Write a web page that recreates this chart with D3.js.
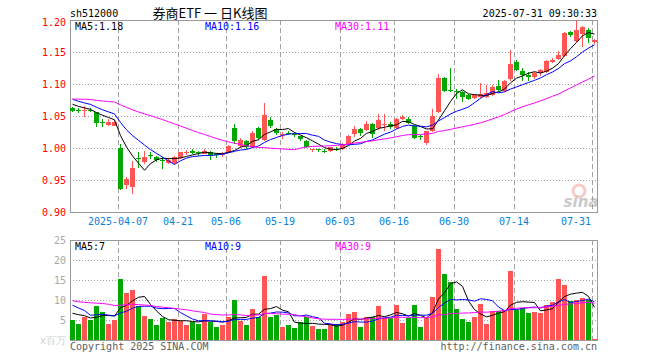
<!DOCTYPE html>
<html>
<head>
<meta charset="utf-8">
<script src="https://cdn.jsdelivr.net/npm/d3@7"></script>
<style>
  html, body { margin: 0; padding: 0; background: #fff; }
  svg { display: block; }
  text { font-family: "DejaVu Sans Mono", monospace; font-size: 10px; }
</style>
</head>
<body>
<svg id="chart" width="660" height="360"></svg>
<script>
// ── 数据 ────────────────────────────────────────────────────────────
const DATES = [
  "03-25","03-26","03-27","03-28","03-31","04-01","04-02","04-03","04-07","04-08",
  "04-09","04-10","04-11","04-14","04-15","04-16","04-17","04-18","04-21","04-22",
  "04-23","04-24","04-25","04-28","04-29","04-30","05-06","05-07","05-08","05-09",
  "05-12","05-13","05-14","05-15","05-16","05-19","05-20","05-21","05-22","05-23",
  "05-26","05-27","05-28","05-29","05-30","06-03","06-04","06-05","06-06","06-09",
  "06-10","06-11","06-12","06-13","06-16","06-17","06-18","06-19","06-20","06-23",
  "06-24","06-25","06-26","06-27","06-30","07-01","07-02","07-03","07-04","07-07",
  "07-08","07-09","07-10","07-11","07-14","07-15","07-16","07-17","07-18","07-21",
  "07-22","07-23","07-24","07-25","07-28","07-29","07-30","07-31"
];

const OPEN = [
  1.063,1.059,1.058,1.060,1.057,1.040,1.037,1.035,1.000,0.942,
  0.940,0.985,0.978,0.989,0.986,0.982,0.977,0.977,0.984,0.992,
  0.996,0.993,0.992,0.994,0.990,0.989,0.993,1.031,1.004,1.011,
  1.002,1.031,1.013,1.043,1.029,1.021,1.024,1.022,1.018,1.011,
  0.997,0.998,0.996,0.994,0.999,0.999,1.006,1.021,1.029,1.028,
  1.037,1.030,1.037,1.038,1.031,1.046,1.046,1.035,1.018,1.007,
  1.027,1.056,1.110,1.090,1.089,1.088,1.083,1.079,1.080,1.080,
  1.084,1.097,1.090,1.109,1.135,1.121,1.114,1.111,1.117,1.119,
  1.135,1.139,1.144,1.181,1.168,1.178,1.185,1.165
];
const HIGH = [
  1.064,1.062,1.066,1.063,1.057,1.045,1.045,1.043,1.007,0.955,
  0.979,0.994,0.995,0.993,0.987,0.986,0.984,0.988,0.994,0.997,
  0.999,0.995,0.998,0.995,0.992,0.994,1.004,1.037,1.016,1.013,
  1.026,1.033,1.071,1.049,1.031,1.025,1.026,1.024,1.019,1.012,
  0.999,0.999,0.999,1.002,1.001,1.008,1.021,1.035,1.031,1.042,
  1.039,1.053,1.053,1.040,1.047,1.051,1.048,1.036,1.020,1.027,
  1.061,1.116,1.111,1.125,1.092,1.089,1.085,1.085,1.102,1.099,
  1.098,1.106,1.107,1.153,1.137,1.125,1.119,1.118,1.124,1.138,
  1.140,1.152,1.181,1.183,1.200,1.190,1.188,1.170
];
const LOW = [
  1.057,1.055,1.049,1.056,1.033,1.033,1.034,1.034,0.934,0.936,
  0.928,0.968,0.975,0.983,0.978,0.967,0.975,0.973,0.983,0.989,
  0.990,0.988,0.990,0.982,0.985,0.986,0.992,1.006,1.000,0.998,
  1.000,1.013,1.011,1.031,1.020,1.014,1.020,1.017,1.011,1.000,
  0.993,0.993,0.992,0.993,0.995,0.997,1.004,1.017,1.019,1.026,
  1.016,1.028,1.027,1.030,1.029,1.044,1.037,1.014,1.012,1.005,
  1.025,1.054,1.087,1.087,1.076,1.072,1.075,1.077,1.078,1.078,
  1.082,1.088,1.088,1.105,1.120,1.104,1.105,1.108,1.113,1.117,
  1.133,1.137,1.142,1.173,1.166,1.158,1.164,1.163
];
const CLOSE = [
  1.059,1.058,1.060,1.059,1.040,1.039,1.041,1.041,0.936,0.951,
  0.969,0.984,0.986,0.988,0.981,0.981,0.981,0.986,0.993,0.993,
  0.993,0.992,0.996,0.988,0.989,0.991,1.003,1.010,1.013,1.002,
  1.024,1.015,1.052,1.033,1.022,1.022,1.023,1.021,1.013,1.001,
  0.998,0.997,0.994,1.001,0.998,1.007,1.019,1.029,1.022,1.037,
  1.022,1.043,1.038,1.033,1.045,1.049,1.040,1.017,1.017,1.026,
  1.050,1.109,1.089,1.089,1.088,1.080,1.077,1.083,1.084,1.086,
  1.096,1.090,1.105,1.132,1.122,1.114,1.111,1.117,1.122,1.136,
  1.138,1.146,1.180,1.176,1.185,1.189,1.172,1.168
];
// 成交量（百万）
const VOLUME = [
  4.9,4.1,5.7,5.1,8.6,7.1,4.1,5.1,15.3,11.8,
  12.6,8.6,6.1,5.3,3.8,5.6,4.6,5.3,4.8,3.8,
  4.6,4.1,6.6,4.6,3.3,3.8,5.8,10.1,4.8,3.8,
  7.8,5.8,16.1,5.8,6.3,3.3,3.8,3.1,4.6,5.8,
  3.6,2.8,2.8,4.1,4.1,4.6,6.6,7.1,3.3,5.8,
  5.8,8.6,5.6,5.6,8.8,4.3,5.6,8.8,3.3,5.6,
  10.8,22.8,16.6,14.6,7.8,5.3,4.6,5.8,9.1,4.1,
  7.3,7.3,7.6,17.3,7.6,8.1,6.8,7.1,6.8,8.8,
  9.6,15.3,13.8,9.8,10.1,10.6,10.1,0.3
];

// 图中区间之前的 29 个交易日（只用于均线）
const PRE_CLOSE = [
  1.060,1.065,1.072,1.078,1.070,1.068,1.062,1.066,1.075,1.080,
  1.085,1.078,1.072,1.070,1.075,1.082,1.088,1.092,1.095,1.098,
  1.090,1.086,1.082,1.084,1.078,1.075,1.072,1.070,1.066
];
const PRE_VOLUME = [
  12.5,9.8,8.6,11.2,10.1,9.3,14.8,12.0,9.5,8.8,
  10.6,9.9,8.7,11.5,10.2,9.0,10.8,9.6,8.9,12.2,
  11.0,12.3,16.8,7.2,6.2,6.0,6.8,8.1,7.7
];

const TICK_DATES  = ["04-07","04-21","05-06","05-19","06-03","06-16","06-30","07-14","07-31"];
const TICK_LABELS = ["2025-04-07","04-21","05-06","05-19","06-03","06-16","06-30","07-14","07-31"];
const PRICE_TICKS = [0.90, 0.95, 1.00, 1.05, 1.10, 1.15, 1.20];
const VOL_TICKS   = [5, 10, 15, 20, 25];

const MA_PERIODS    = [5, 10, 30];
const MA_COLORS     = ["#000000", "#0000ff", "#ff00ff"];
const PRICE_MA_TEXT = ["MA5:1.18", "MA10:1.16", "MA30:1.11"];
const VOL_MA_TEXT   = ["MA5:7", "MA10:9", "MA30:9"];

const UP_COLOR   = "#ff5555";
const DOWN_COLOR = "#00a800";
const GRID_COLOR = "#a0a0a0";

// ── 布局 ────────────────────────────────────────────────────────────
const svg = d3.select("#chart");
const L = 70, R = 598;
const P_TOP = 20, P_BOT = 212;
const V_TOP = 240, V_BOT = 340;

const x = d3.scaleBand().domain(DATES).range([L, R])
  .paddingInner(1 / 6).paddingOuter(1 / 12).align(0);
const bw = x.bandwidth();
const cx = d => Math.round(x(d)) + 2.5;

const yP = d3.scaleLinear().domain([0.90, 1.20]).range([P_BOT, P_TOP]);
const yV = d3.scaleLinear().domain([0, 25]).range([V_BOT, V_TOP]);

function movingAvg(pre, vals, n) {
  const all = pre.concat(vals);
  return vals.map((_, i) => d3.mean(all.slice(i + pre.length - n + 1, i + pre.length + 1)));
}

const bars = DATES.map((d, i) => ({
  date: d, o: OPEN[i], h: HIGH[i], l: LOW[i], c: CLOSE[i], v: VOLUME[i],
  up: CLOSE[i] >= OPEN[i]
}));

svg.append("rect").attr("width", 660).attr("height", 360).attr("fill", "#fff");

// ── 标题 ────────────────────────────────────────────────────────────
svg.append("text").attr("x", 70).attr("y", 17).attr("fill", "#000").text("sh512000");
svg.append("text").attr("x", 210).attr("y", 18).attr("text-anchor", "middle")
  .style("font-family", "'Noto Sans CJK SC', sans-serif").style("font-size", "13px")
  .attr("fill", "#000").text("券商ETF 一 日K线图");
svg.append("text").attr("x", 597).attr("y", 17).attr("text-anchor", "end")
  .attr("fill", "#000").text("2025-07-31 09:30:33");

// ── 网格 ────────────────────────────────────────────────────────────
function grid(g, yScale, ticks, top, bot) {
  g.selectAll("line.h").data(ticks).join("line").attr("class", "h")
    .attr("x1", L).attr("x2", R)
    .attr("y1", d => Math.round(yScale(d)) + 0.5).attr("y2", d => Math.round(yScale(d)) + 0.5)
    .attr("stroke", GRID_COLOR).attr("stroke-dasharray", "1,2");
  g.selectAll("line.v").data(TICK_DATES).join("line").attr("class", "v")
    .attr("x1", d => Math.round(x(d)) + 0.5).attr("x2", d => Math.round(x(d)) + 0.5)
    .attr("y1", top).attr("y2", bot)
    .attr("stroke", GRID_COLOR).attr("stroke-dasharray", "5,3");
}
grid(svg.append("g"), yP, PRICE_TICKS.slice(1, -1), P_TOP, P_BOT);
grid(svg.append("g"), yV, VOL_TICKS.slice(0, -1), V_TOP, V_BOT);

// ── 坐标轴 ──────────────────────────────────────────────────────────
const axP = svg.append("g").attr("transform", `translate(${L},0)`)
  .call(d3.axisLeft(yP).tickValues(PRICE_TICKS).tickFormat(d3.format(".2f")).tickSize(0).tickPadding(4));
axP.select(".domain").remove();
axP.selectAll("text").attr("fill", "#ff0000")
  .style("font-family", "'DejaVu Sans Mono', monospace").style("font-size", "10px");
axP.selectAll(".tick").filter(d => d === 1.20).select("text").attr("dy", "0.5em");

const axV = svg.append("g").attr("transform", `translate(${L},0)`)
  .call(d3.axisLeft(yV).tickValues(VOL_TICKS).tickSize(0).tickPadding(4));
axV.select(".domain").remove();
axV.selectAll("text").attr("fill", "#a8a8a8")
  .style("font-family", "'DejaVu Sans Mono', monospace").style("font-size", "10px");

svg.append("text").attr("x", 66).attr("y", 344).attr("text-anchor", "end")
  .attr("fill", "#d0d0d0").style("font-size", "10px").text("x百万");

// 日期标签
svg.append("g").selectAll("text").data(TICK_DATES).join("text")
  .attr("x", d => Math.round(x(d)))
  .attr("y", 224.5).attr("text-anchor", "middle").attr("fill", "#0a80d8")
  .text((d, i) => TICK_LABELS[i])
  .each(function () {
    const t = d3.select(this), w = this.getComputedTextLength();
    if (+t.attr("x") + w / 2 > 591) t.attr("x", 591).attr("text-anchor", "end");
  });

// ── 边框 ────────────────────────────────────────────────────────────
svg.append("rect").attr("x", L + 0.5).attr("y", P_TOP + 0.5)
  .attr("width", R - L - 1).attr("height", P_BOT - P_TOP)
  .attr("fill", "none").attr("stroke", "#999");
svg.append("rect").attr("x", L + 0.5).attr("y", V_TOP + 0.5)
  .attr("width", R - L - 1).attr("height", V_BOT - V_TOP)
  .attr("fill", "none").attr("stroke", "#999");

// 新浪水印
const wm = svg.append("g").attr("opacity", 0.55);
wm.append("circle").attr("cx", 579).attr("cy", 191).attr("r", 6)
  .attr("fill", "none").attr("stroke", "#f4a0a0").attr("stroke-width", 3);
wm.append("text").attr("x", 581).attr("y", 207).attr("text-anchor", "middle")
  .style("font-family", "'DejaVu Sans', sans-serif").style("font-size", "15px")
  .style("font-weight", "bold").style("font-style", "italic")
  .attr("fill", "#a0a0a0").text("sina");

// ── K 线 ────────────────────────────────────────────────────────────
const gK = svg.append("g").attr("shape-rendering", "crispEdges");
gK.selectAll("line").data(bars).join("line")
  .attr("x1", d => cx(d.date)).attr("x2", d => cx(d.date))
  .attr("y1", d => yP(d.h)).attr("y2", d => yP(d.l))
  .attr("stroke", d => d.up ? UP_COLOR : DOWN_COLOR);
gK.selectAll("rect").data(bars).join("rect")
  .attr("x", d => Math.round(x(d.date)))
  .attr("width", bw)
  .attr("y", d => Math.round(yP(Math.max(d.o, d.c))))
  .attr("height", d => Math.max(1, Math.round(Math.abs(yP(d.o) - yP(d.c)))))
  .attr("fill", d => d.up ? UP_COLOR : DOWN_COLOR);

// ── 成交量 ──────────────────────────────────────────────────────────
svg.append("g").attr("shape-rendering", "crispEdges")
  .selectAll("rect").data(bars).join("rect")
  .attr("x", d => Math.round(x(d.date)))
  .attr("width", bw)
  .attr("y", d => Math.round(yV(d.v)))
  .attr("height", d => V_BOT - Math.round(yV(d.v)))
  .attr("fill", d => d.up ? UP_COLOR : DOWN_COLOR);

// ── 均线 ────────────────────────────────────────────────────────────
MA_PERIODS.forEach((n, k) => {
  const pMA = movingAvg(PRE_CLOSE, CLOSE, n);
  const vMA = movingAvg(PRE_VOLUME, VOLUME, n);
  svg.append("path").datum(pMA)
    .attr("d", d3.line().x((d, i) => cx(DATES[i])).y(d => yP(d)))
    .attr("fill", "none").attr("stroke", MA_COLORS[k]).attr("stroke-width", 1);
  svg.append("path").datum(vMA)
    .attr("d", d3.line().x((d, i) => cx(DATES[i])).y(d => yV(d)))
    .attr("fill", "none").attr("stroke", MA_COLORS[k]).attr("stroke-width", 1);
});

// 均线说明
const labelX = [75, 205, 335];
svg.append("g").selectAll("text").data(PRICE_MA_TEXT).join("text")
  .attr("x", (d, i) => labelX[i]).attr("y", 29.5)
  .attr("fill", (d, i) => MA_COLORS[i]).text(d => d);
svg.append("g").selectAll("text").data(VOL_MA_TEXT).join("text")
  .attr("x", (d, i) => labelX[i]).attr("y", 250)
  .attr("fill", (d, i) => MA_COLORS[i]).text(d => d);

// ── 版权 ────────────────────────────────────────────────────────────
svg.append("text").attr("x", 70).attr("y", 349.5).attr("fill", "#606060")
  .text("Copyright 2025 SINA.COM");
svg.append("text").attr("x", 597).attr("y", 349.5).attr("text-anchor", "end")
  .attr("fill", "#606060").text("http://finance.sina.com.cn");
</script>
</body>
</html>
